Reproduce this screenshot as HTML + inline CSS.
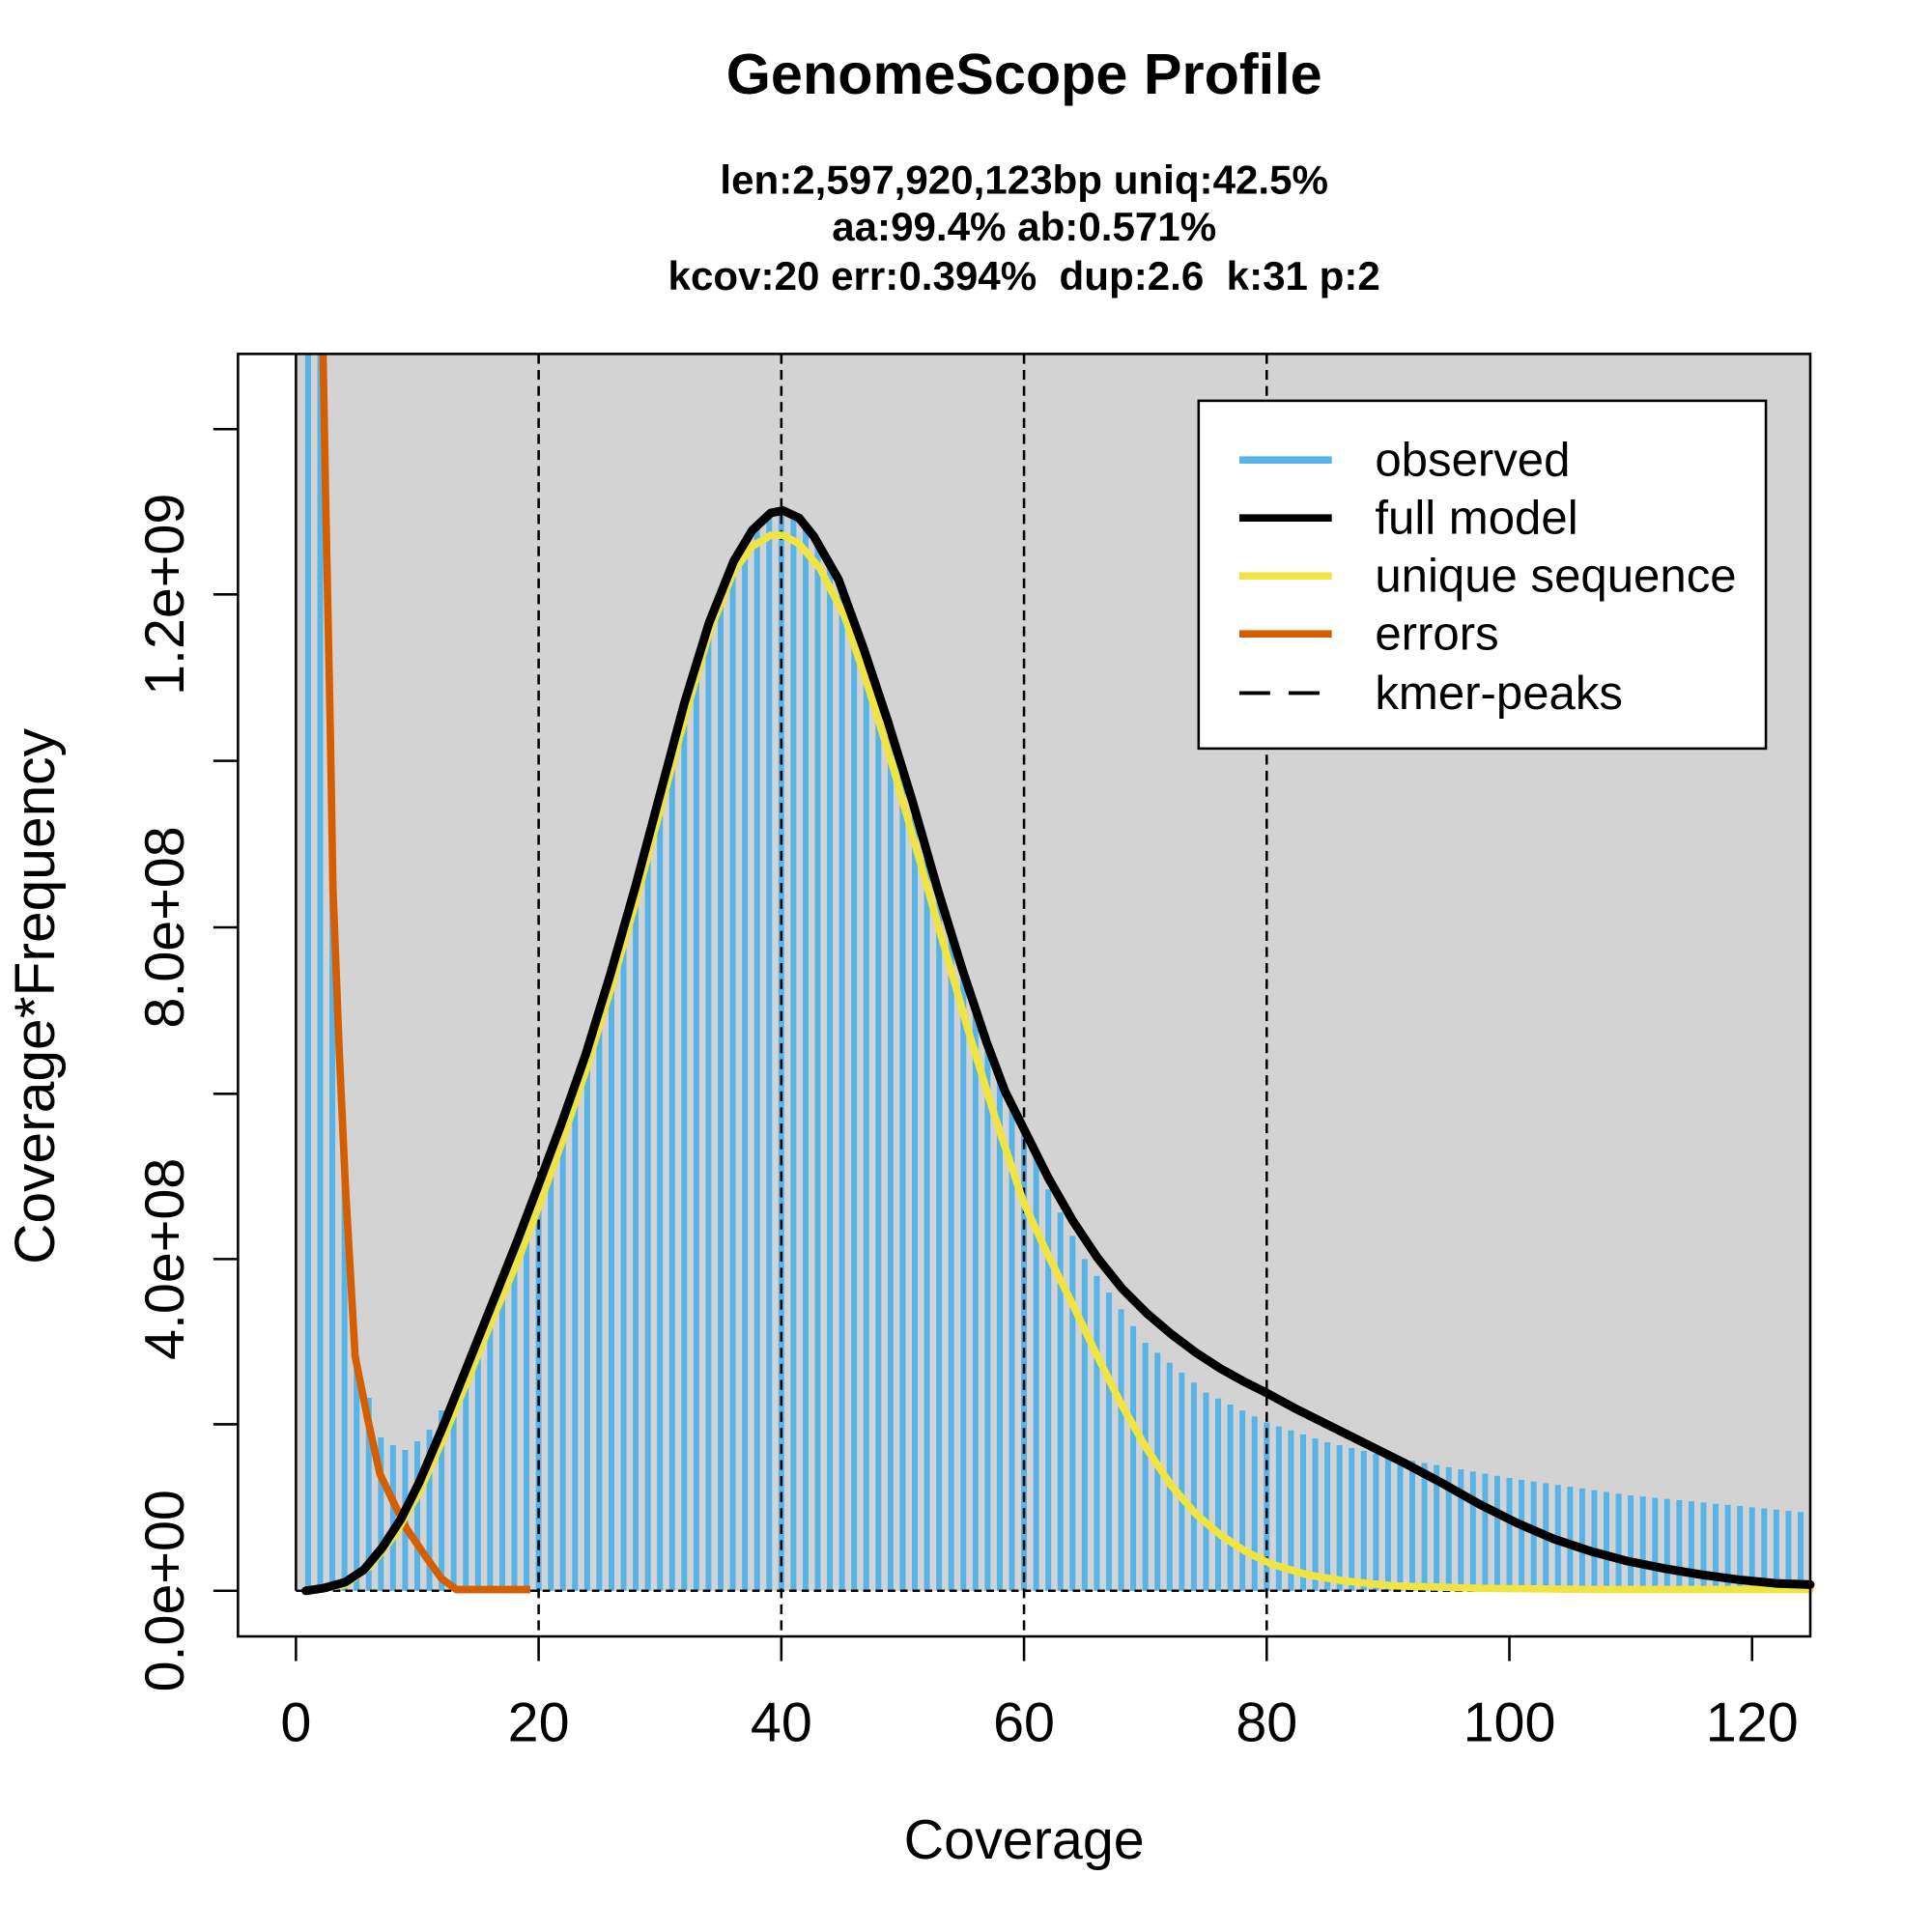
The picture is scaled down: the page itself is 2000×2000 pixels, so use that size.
<!DOCTYPE html>
<html><head><meta charset="utf-8"><style>html,body{margin:0;padding:0;background:#fff}svg{display:block}text{font-family:"Liberation Sans",Arial,sans-serif;white-space:pre}</style></head>
<body>
<svg id="s" xmlns="http://www.w3.org/2000/svg" width="2000" height="2000" viewBox="0 0 1566.7 1566.7" xml:space="preserve">
<rect x="0" y="0" width="1566.7" height="1566.7" fill="#fff"/>
<rect x="240" y="287" width="1228" height="1003" fill="#d3d3d3"/>
<g id="bars" fill="#56B4E9"></g>
<line x1="240" y1="287" x2="240" y2="1290" stroke="#000" stroke-width="2"/>
<line x1="240" y1="1290" x2="1468" y2="1290" stroke="#000" stroke-width="2" stroke-dasharray="6,4"/>
<g stroke="#000" stroke-width="2" stroke-dasharray="8,5">
<line x1="436.8" y1="287" x2="436.8" y2="1327"/>
<line x1="633.6" y1="287" x2="633.6" y2="1327"/>
<line x1="830.4" y1="287" x2="830.4" y2="1327"/>
<line x1="1027.2" y1="287" x2="1027.2" y2="1327"/>
</g>
<polyline fill="none" stroke="#D55E00" stroke-width="6" stroke-linejoin="round" points="262,288 264,400 268,600 270,720 275,850 280,960 288,1100 298,1150 308,1195 320,1220 330,1240 345,1262 358,1280 370,1289 430,1289"/>
<polyline id="yel" fill="none" stroke="#F0E442" stroke-width="6" stroke-linejoin="round" stroke-linecap="round" points="250,1290 280,1285 300,1270 320,1245 340,1210 360,1165 380,1117 400,1068 420,1022 437,978 455,928 475,868 495,803 515,733 535,658 555,583 575,513 595,463 610,443 625,434 635,434 648,441 665,461 685,500 705,560 725,625 745,695 765,765 785,835 805,900 830,975 850,1018 870,1058 890,1100 910,1140 930,1175 950,1205 970,1228 990,1245 1010,1258 1030,1268 1060,1277 1090,1282 1130,1286 1200,1288 1300,1289 1468,1289"/>
<polyline id="blk" fill="none" stroke="#000" stroke-width="7" stroke-linejoin="round" stroke-linecap="round" points="248,1290 262,1288 280,1283 295,1273 310,1255 325,1232 340,1202 360,1155 380,1105 400,1055 420,1005 437,960 455,912 475,855 495,790 515,720 535,645 555,570 575,505 595,455 610,430 625,416 635,414 648,420 660,435 680,470 700,525 720,585 740,650 760,720 780,785 800,845 815,885 830,915 850,955 870,990 890,1020 910,1045 930,1065 950,1082 970,1097 990,1110 1010,1121 1028,1130 1050,1142 1080,1157 1110,1172 1140,1187 1170,1203 1200,1220 1230,1235 1260,1248 1290,1258 1320,1266 1350,1272 1380,1277 1410,1281 1440,1284 1468,1285"/>
<rect x="193" y="287" width="1275" height="1040" fill="none" stroke="#000" stroke-width="2"/>
<g stroke="#000" stroke-width="2">
<line x1="193" y1="1290" x2="173" y2="1290"/><line x1="193" y1="1155" x2="173" y2="1155"/><line x1="193" y1="1021" x2="173" y2="1021"/><line x1="193" y1="887" x2="173" y2="887"/><line x1="193" y1="752" x2="173" y2="752"/><line x1="193" y1="617" x2="173" y2="617"/><line x1="193" y1="482" x2="173" y2="482"/><line x1="193" y1="348" x2="173" y2="348"/>
<line x1="240" y1="1327" x2="240" y2="1347"/><line x1="436.8" y1="1327" x2="436.8" y2="1347"/><line x1="633.6" y1="1327" x2="633.6" y2="1347"/><line x1="830.4" y1="1327" x2="830.4" y2="1347"/><line x1="1027.2" y1="1327" x2="1027.2" y2="1347"/><line x1="1224" y1="1327" x2="1224" y2="1347"/><line x1="1420.8" y1="1327" x2="1420.8" y2="1347"/>
</g>
<g font-size="45" text-anchor="middle" fill="#000">
<text x="240" y="1412">0</text><text x="436.8" y="1412">20</text><text x="633.6" y="1412">40</text><text x="830.4" y="1412">60</text><text x="1027.2" y="1412">80</text><text x="1224" y="1412">100</text><text x="1420.8" y="1412">120</text>
<text transform="translate(149,1290) rotate(-90)">0.0e+00</text>
<text transform="translate(149,1021) rotate(-90)">4.0e+08</text>
<text transform="translate(149,752) rotate(-90)">8.0e+08</text>
<text transform="translate(149,482) rotate(-90)">1.2e+09</text>
<text x="830.5" y="1507">Coverage</text>
<text transform="translate(44,808) rotate(-90)" font-size="46">Coverage*Frequency</text>
</g>
<g text-anchor="middle" font-weight="bold" fill="#000">
<text x="830.5" y="76" font-size="46.5">GenomeScope Profile</text>
<text x="830.5" y="157" font-size="33">len:2,597,920,123bp uniq:42.5%</text>
<text x="830.5" y="195" font-size="33">aa:99.4% ab:0.571%</text>
<text x="830.5" y="235" font-size="33">kcov:20 err:0.394%  dup:2.6  k:31 p:2</text>
</g>
<rect x="972" y="325" width="460" height="282" fill="#fff" stroke="#000" stroke-width="2"/>
<g stroke-width="6">
<line x1="1005" y1="373" x2="1080" y2="373" stroke="#56B4E9"/>
<line x1="1005" y1="420" x2="1080" y2="420" stroke="#000"/>
<line x1="1005" y1="467" x2="1080" y2="467" stroke="#F0E442"/>
<line x1="1005" y1="514" x2="1080" y2="514" stroke="#D55E00"/>
<line x1="1005" y1="562" x2="1070" y2="562" stroke="#000" stroke-width="3" stroke-dasharray="25,15"/>
</g>
<g font-size="38.5" fill="#000">
<text x="1115" y="386">observed</text>
<text x="1115" y="433">full model</text>
<text x="1115" y="480">unique sequence</text>
<text x="1115" y="527">errors</text>
<text x="1115" y="575">kmer-peaks</text>
</g>
</svg>
<script>
(function(){
var pts=document.getElementById('blk').getAttribute('points').trim().split(/\s+/).map(function(p){return p.split(',').map(Number);});
function blackY(x){for(var i=1;i<pts.length;i++){if(x<=pts[i][0]){var a=pts[i-1],b=pts[i];return a[1]+(b[1]-a[1])*(x-a[0])/(b[0]-a[0]);}}return pts[pts.length-1][1];}
var early={1:287,2:287,3:700,4:950,5:1100,6:1133.5,7:1165.6,8:1171.9,9:1175.8,10:1168.7,11:1159.3,12:1143.7};
var tail=[[60,5.4],[65,4.0],[70,2.99],[75,2.39],[80,2.03],[85,1.79],[90,1.62],[100,1.36],[110,1.15],[124,0.95]];
function tailV(c){for(var i=1;i<tail.length;i++){if(c<=tail[i][0]){var a=tail[i-1],b=tail[i];return a[1]+(b[1]-a[1])*(c-a[0])/(b[0]-a[0]);}}return tail[tail.length-1][1];}
var g=document.getElementById('bars'),h='';
for(var c=1;c<=124;c++){var x=240+9.84*c,y;
if(early[c]!==undefined)y=early[c];
else if(c<62)y=blackY(x)+3;
else y=1290-tailV(c)*67.25;
h+='<rect x="'+(x-2.35).toFixed(2)+'" y="'+y.toFixed(1)+'" width="4.7" height="'+(1290-y).toFixed(1)+'"/>';}
g.innerHTML=h;
})();
</script>
</body></html>
